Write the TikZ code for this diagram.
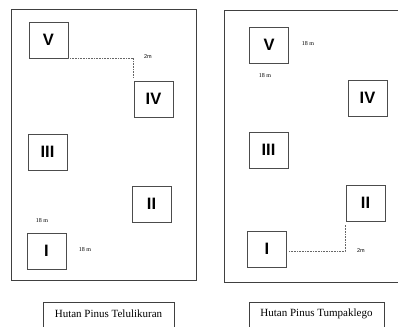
\documentclass[tikz,border=0pt]{standalone}
\usepackage{fontspec}
\setmainfont{Liberation Serif}
\newfontfamily\plotfont{Liberation Sans}
\usepackage{xcolor}
\usepackage{tikz}

\begin{document}
\begin{tikzpicture}[x=1pt,y=-1pt,
                    plotbox/.style={draw=black!70, line width=0.8pt, fill=white,
                                    minimum width=39pt, minimum height=36pt,
                                    font=\plotfont\fontsize{16.5}{16.5}\selectfont\bfseries},
                    sizelabel/.style={font=\fontsize{6}{6}\selectfont},
                    gaplabel/.style={font=\plotfont\fontsize{5.5}{5.5}\selectfont},
                    gapline/.style={draw=black!60, line width=0.6pt, dash pattern=on 1pt off 0.6pt}
                   ]
  \useasboundingbox (0,0) rectangle (398,326);
  \clip (0,0) rectangle (398,326);

  % areal hutan
  \draw[black!75, line width=0.8pt] (11,9) rectangle (196,280);
  \draw[black!75, line width=0.8pt] (224,10) rectangle (410,282);

  % Telulikuran
  \node[plotbox] (tV)   at (48.5,40)  {V};
  \node[plotbox] (tIV)  at (153.5,99) {IV};
  \node[plotbox] (tIII) at (47.5,152) {III};
  \node[plotbox] (tII)  at (151.5,204) {II};
  \node[plotbox] (tI)   at (46.5,251) {I};
  \node[sizelabel] (tTop)   at (42,221) {18 m};
  \node[sizelabel] (tSide)  at (85,250) {18 m};
  \coordinate (tBend) at (tV.south east -| 133,0);
  \coordinate (tEnd) at (133,78);
  \draw[gapline] (tV.south east) -- (tBend) -- (tEnd);
  \node[gaplabel] (tGap) at (148,57) {2m};

  % Tumpaklego
  \node[plotbox] (pV)   at (269,45)   {V};
  \node[plotbox] (pIV)  at (367.5,98) {IV};
  \node[plotbox] (pIII) at (268.5,150) {III};
  \node[plotbox] (pII)  at (365.5,203) {II};
  \node[plotbox] (pI)   at (267,249)  {I};
  \node[sizelabel] (pSide) at (308,44) {18 m};
  \node[sizelabel] (pTop)  at (265,76) {18 m};
  \coordinate (pStart) at (289,251);
  \coordinate (pBend) at (345,251);
  \draw[gapline] (pStart) -- (pBend) -- (pBend |- 0,225);
  \node[gaplabel] (pGap) at (361,251) {2m};

  % keterangan
  \draw[black!75, line width=0.7pt] (43,302) rectangle (174,340);
  \node[font=\fontsize{11}{11}\selectfont] (capT) at (108.5,313.5) {Hutan Pinus Telulikuran};
  \draw[black!75, line width=0.7pt] (249,302) rectangle (384,340);
  \node[font=\fontsize{11}{11}\selectfont] (capP) at (316.5,313.5) {Hutan Pinus Tumpaklego};
\end{tikzpicture}
\end{document}
